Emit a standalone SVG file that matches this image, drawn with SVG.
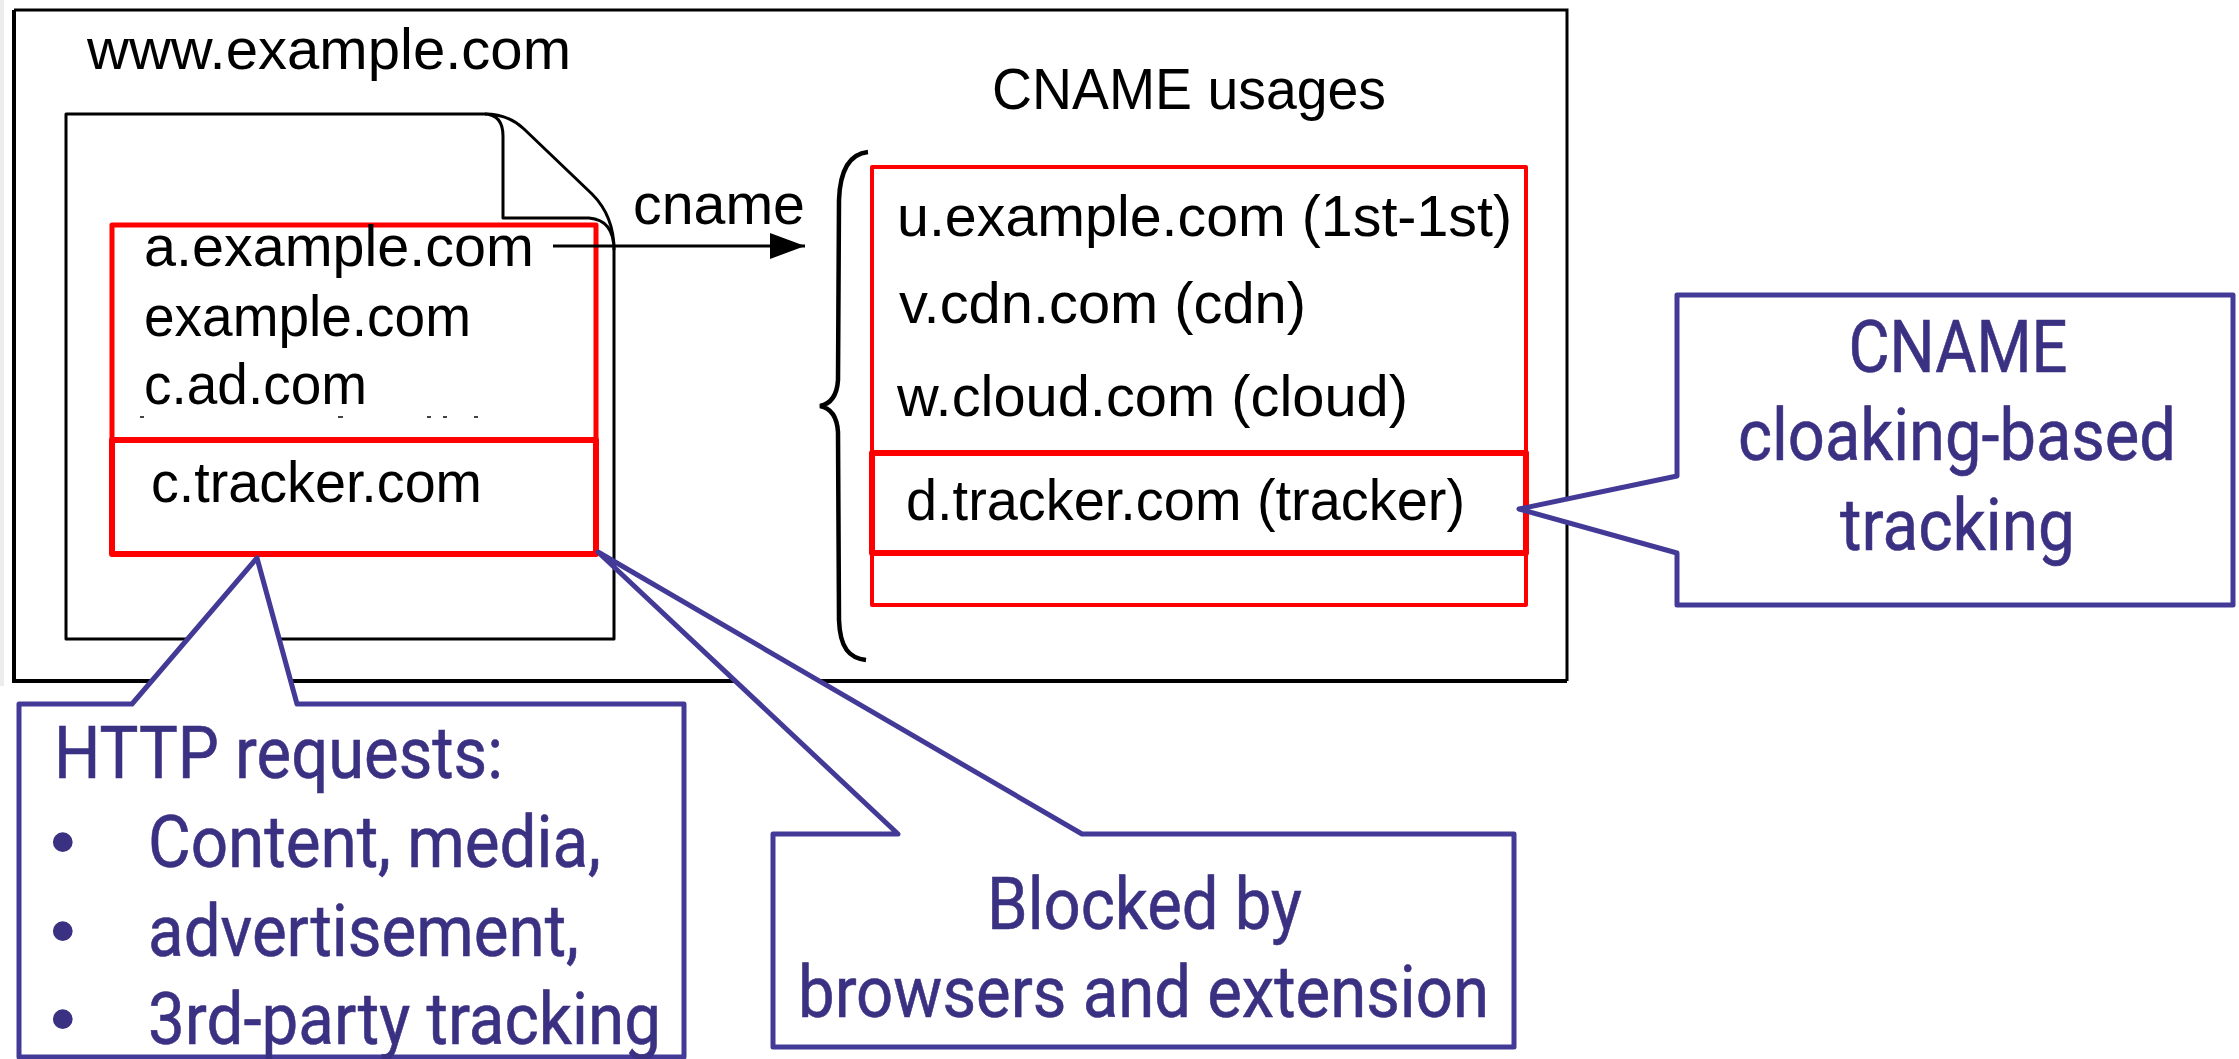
<svg xmlns="http://www.w3.org/2000/svg" width="2239" height="1059" viewBox="0 0 2239 1059">
  <style>
    .frame { fill: none; stroke: #000; stroke-width: 3; }
    .doc { fill: #fff; stroke: #000; stroke-width: 3; stroke-linejoin: round; }
    .red { fill: none; stroke: #ff0000; stroke-linejoin: round; }
    .callout { fill: #fff; stroke: #433a97; stroke-width: 5; stroke-linejoin: round; }
    .dom { font-family: "Liberation Sans", Arial, sans-serif; font-size: 57px; fill: #000; }
    .note { font-family: Roboto, "Noto Sans", sans-serif; font-size: 73px; fill: #3a3182; stroke: #3a3182; stroke-width: 0.6; }
    .bullet { font-family: "Liberation Sans", Arial, sans-serif; font-size: 73px; fill: #3a3182; }
    .conn { fill: none; stroke: #000; stroke-width: 3; }
  </style>
  <defs>
    <marker id="arrow" markerWidth="36" markerHeight="28" refX="35" refY="14" orient="auto" markerUnits="userSpaceOnUse">
      <path d="M0,1 L35,14 L0,27 Z" fill="#000"/>
    </marker>
  </defs>

  <rect x="0" y="0" width="2239" height="1059" fill="#fff"/>
  <rect x="0" y="0" width="4" height="686" fill="#ececec"/>

  <!-- page frame -->
  <g id="frame">
    <path class="frame" d="M14,10 H1567 V681"/>
    <path d="M14,10 V681 H1567" fill="none" stroke="#000" stroke-width="4"/>
    <text class="dom" x="87" y="69" font-size="58" textLength="484" lengthAdjust="spacingAndGlyphs">www.example.com</text>
  </g>

  <!-- web page document with folded corner -->
  <g id="page-doc">
    <path class="doc" d="M66,114 H485 Q508,114 524,129 L592,194 Q614,216 614,250 V639 H66 Z"/>
    <path class="doc" d="M485,114 Q503,115 503,136 V218 H589 Q614,220 614,250"/>
  </g>

  <!-- first-party / other hosts -->
  <g id="hosts-first">
    <rect class="red" x="112" y="225" width="484" height="215" stroke-width="5"/>
    <text class="dom" x="144" y="266" textLength="390" lengthAdjust="spacingAndGlyphs">a.example.com</text>
    <text class="dom" x="144" y="336" textLength="327" lengthAdjust="spacingAndGlyphs">example.com</text>
    <text class="dom" x="144" y="404" textLength="223" lengthAdjust="spacingAndGlyphs">c.ad.com</text>
    <g fill="#444">
      <rect x="140" y="416" width="4" height="2"/>
      <rect x="338" y="416" width="5" height="2"/>
      <rect x="427" y="416" width="4" height="2"/>
      <rect x="443" y="416" width="4" height="2"/>
      <rect x="474" y="416" width="4" height="2"/>
    </g>
  </g>

  <!-- third-party tracker host -->
  <g id="host-tracker">
    <rect class="red" x="112" y="440" width="484" height="114" stroke-width="6"/>
    <text class="dom" x="151" y="502" textLength="331" lengthAdjust="spacingAndGlyphs">c.tracker.com</text>
  </g>

  <!-- CNAME usages list -->
  <g id="cname-usages">
    <text class="dom" x="992" y="109" font-size="53" textLength="394" lengthAdjust="spacingAndGlyphs">CNAME usages</text>
    <path d="M868,152 C849,154 840,170 839,200 L838,380 C837,396 830,404 820,406 C830,408 837,416 838,432 L839,620 C840,648 849,658 866,660" fill="none" stroke="#000" stroke-width="4.5"/>
    <rect class="red" x="872" y="167" width="654" height="438" stroke-width="4"/>
    <text class="dom" x="897" y="236" textLength="615" lengthAdjust="spacingAndGlyphs">u.example.com (1st-1st)</text>
    <text class="dom" x="899" y="323" textLength="407" lengthAdjust="spacingAndGlyphs">v.cdn.com (cdn)</text>
    <text class="dom" x="897" y="416" textLength="511" lengthAdjust="spacingAndGlyphs">w.cloud.com (cloud)</text>
  </g>

  <g id="cname-tracker">
    <rect class="red" x="872" y="453" width="654" height="100" stroke-width="6"/>
    <text class="dom" x="906" y="520" textLength="559" lengthAdjust="spacingAndGlyphs">d.tracker.com (tracker)</text>
  </g>

  <!-- connectors -->
  <g id="connectors">
    <line class="conn" x1="553" y1="246" x2="805" y2="246" marker-end="url(#arrow)"/>
    <text class="dom" x="633" y="224" textLength="172" lengthAdjust="spacingAndGlyphs">cname</text>
  </g>

  <!-- callouts -->
  <g id="callout-cloaking">
    <path class="callout" d="M1677,295 H2233 V605 H1677 V553 L1519,509 L1677,476 Z"/>
    <text class="note" x="1958" y="372" text-anchor="middle" textLength="219" lengthAdjust="spacingAndGlyphs">CNAME</text>
    <text class="note" x="1738" y="460" textLength="438" lengthAdjust="spacingAndGlyphs">cloaking-based</text>
    <text class="note" x="1840" y="550" textLength="235" lengthAdjust="spacingAndGlyphs">tracking</text>
  </g>

  <g id="callout-http">
    <path class="callout" d="M19,704 H132 L257,558 L297,704 H684 V1057 H19 Z"/>
    <text class="note" x="54" y="778" textLength="449" lengthAdjust="spacingAndGlyphs">HTTP requests:</text>
    <text class="bullet" x="50" y="866">•</text>
    <text class="bullet" x="50" y="955">•</text>
    <text class="bullet" x="50" y="1043">•</text>
    <text class="note" x="148" y="867" textLength="453" lengthAdjust="spacingAndGlyphs">Content, media,</text>
    <text class="note" x="148" y="956" textLength="431" lengthAdjust="spacingAndGlyphs">advertisement,</text>
    <text class="note" x="148" y="1044" textLength="513" lengthAdjust="spacingAndGlyphs">3rd-party tracking</text>
  </g>

  <g id="callout-blocked">
    <path class="callout" d="M773,834 H898 L598,552 L1082,834 H1514 V1047 H773 Z"/>
    <text class="note" x="987" y="929" textLength="315" lengthAdjust="spacingAndGlyphs">Blocked by</text>
    <text class="note" x="798" y="1017" textLength="691" lengthAdjust="spacingAndGlyphs">browsers and extension</text>
  </g>
</svg>
